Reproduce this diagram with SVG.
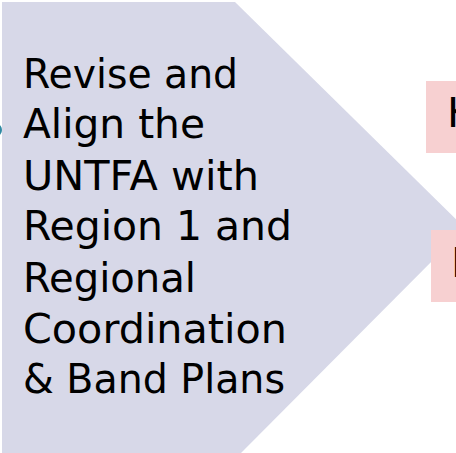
<svg xmlns="http://www.w3.org/2000/svg" width="456" height="453" viewBox="0 0 456 453">
<style>
.lbl{font-family:"DejaVu Sans","Liberation Sans",sans-serif;font-size:41px;fill:#000}
.pink{fill:#f7d0d1}
</style>
<rect width="456" height="453" fill="#fff"/>
<g id="connectors">
<ellipse cx="-3" cy="130" rx="5" ry="6" fill="#2f8aa3"/>
</g>
<g id="node-main">
<polygon points="2,2 235,2 465,228 238,456 2,456" fill="#d7d8e8"/>
<text class="lbl" x="23" y="88" textLength="215" lengthAdjust="spacingAndGlyphs">Revise and</text>
<text class="lbl" x="23" y="138" textLength="182" lengthAdjust="spacingAndGlyphs">Align the</text>
<text class="lbl" x="23" y="190" textLength="236" lengthAdjust="spacingAndGlyphs">UNTFA with</text>
<text class="lbl" x="23" y="240" textLength="269" lengthAdjust="spacingAndGlyphs">Region 1 and</text>
<text class="lbl" x="23" y="292" textLength="173" lengthAdjust="spacingAndGlyphs">Regional</text>
<text class="lbl" x="23" y="343" textLength="264" lengthAdjust="spacingAndGlyphs">Coordination</text>
<text class="lbl" x="23" y="393" textLength="262" lengthAdjust="spacingAndGlyphs">&amp; Band Plans</text>
</g>
<g id="node-k">
<rect class="pink" x="426" y="81" width="40" height="72"/>
<text class="lbl" x="447" y="127">K</text>
</g>
<g id="node-i">
<rect class="pink" x="431" y="230" width="40" height="72"/>
<text class="lbl" x="451" y="277">I</text>
</g>
</svg>
